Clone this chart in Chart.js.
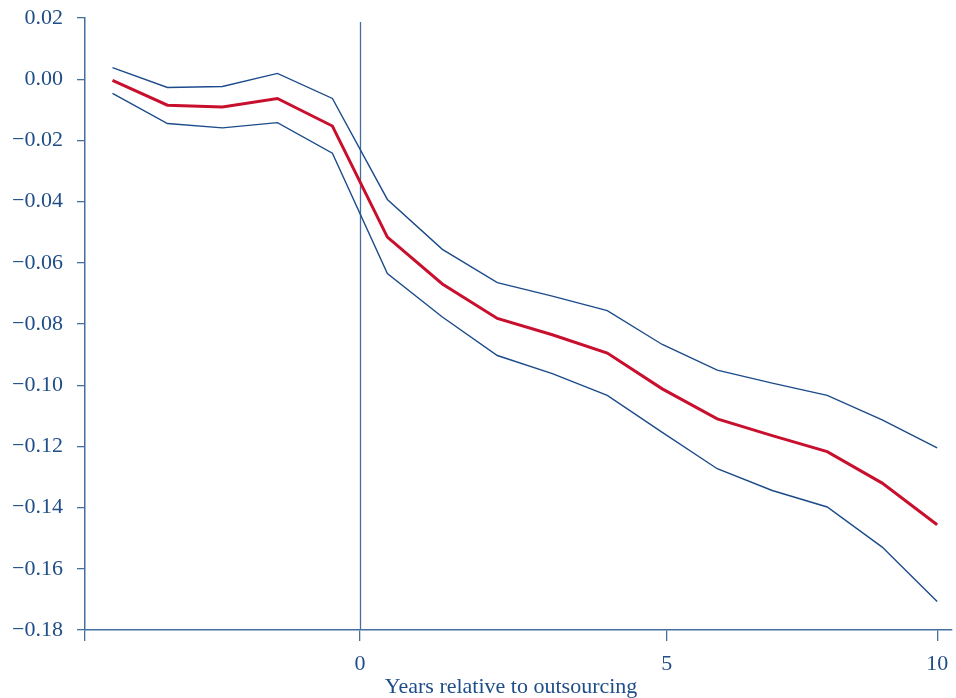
<!DOCTYPE html>
<html>
<head>
<meta charset="utf-8">
<script src="https://cdn.jsdelivr.net/npm/chart.js@4"></script>
<style>
  html, body { margin: 0; padding: 0; background: #fff; }
  #wrap { width: 956px; height: 698px; }
</style>
</head>
<body>
<div id="wrap"><canvas id="event"></canvas></div>
<script>
// event time of each estimate (one point per period)
const periods = [-5, -4, -3, -2, -1, 0, 1, 2, 3, 4, 5, 6, 7, 8, 9, 10];
const estimate = [-0.0004, -0.0085, -0.0091, -0.0063, -0.0153, -0.0516, -0.0669, -0.0782, -0.0835, -0.0895, -0.1012, -0.1110, -0.1165, -0.1217, -0.1320, -0.1456];
const upper = [0.0038, -0.0027, -0.0024, 0.0019, -0.0063, -0.0393, -0.0556, -0.0665, -0.0709, -0.0756, -0.0867, -0.0951, -0.0993, -0.1033, -0.1113, -0.1205];
const lower = [-0.0046, -0.0145, -0.0159, -0.0142, -0.0242, -0.0635, -0.0777, -0.0903, -0.0962, -0.1033, -0.1154, -0.1273, -0.1344, -0.1398, -0.1529, -0.1707];

// x tick positions and their labels as printed on the original axis
const xTickValues = [-5.5, -0.5, 5.08, 10];
const xTickLabels = ['', '0', '5', '10'];
const yTickValues = [0.02, 0, -0.02, -0.04, -0.06, -0.08, -0.1, -0.12, -0.14, -0.16, -0.18];
const eventLine = -0.5;
const xTitle = 'Years relative to outsourcing';

const navy = '#1b4b8a';
const axisBlue = '#44709f';
const textBlue = '#1f4d88';
const red = '#c8102e';
const font = { family: '"Liberation Serif", "Times New Roman", serif', size: 22 };

const toPoints = vals => periods.map((p, i) => ({ x: p, y: vals[i] }));

const extras = {
    id: 'extras',
    beforeDatasetsDraw(chart) {
        const { ctx, scales: { x, y } } = chart;
        const px = Math.round(x.getPixelForValue(eventLine)) + 0.5;
        ctx.save();
        ctx.strokeStyle = axisBlue;
        ctx.lineWidth = 1.3;
        ctx.beginPath();
        ctx.moveTo(px, y.top + 4);
        ctx.lineTo(px, y.bottom);
        ctx.stroke();
        ctx.restore();
    },
    afterDraw(chart) {
        const { ctx, scales: { x } } = chart;
        const cx = (x.getPixelForValue(xTickValues[0]) + x.getPixelForValue(xTickValues[xTickValues.length - 1])) / 2;
        ctx.save();
        ctx.fillStyle = textBlue;
        ctx.font = `${font.size}px ${font.family}`;
        ctx.textAlign = 'center';
        ctx.textBaseline = 'alphabetic';
        ctx.fillText(xTitle, cx, x.bottom - 5);
        ctx.restore();
    }
};

function fmtY(v) {
    const s = Math.abs(v).toFixed(2);
    return v < -1e-9 ? '\u2212' + s : s;
}

new Chart(document.getElementById('event').getContext('2d'), {
    type: 'line',
    data: {
        datasets: [
            { data: toPoints(upper), borderColor: navy, borderWidth: 1.4, pointRadius: 0, tension: 0 },
            { data: toPoints(lower), borderColor: navy, borderWidth: 1.4, pointRadius: 0, tension: 0 },
            { data: toPoints(estimate), borderColor: red, borderWidth: 3, pointRadius: 0, tension: 0 }
        ]
    },
    options: {
        responsive: true,
        maintainAspectRatio: false,
        animation: false,
        layout: { padding: { top: 18, right: 4, left: 0, bottom: 0 } },
        plugins: { legend: { display: false }, tooltip: { enabled: false } },
        scales: {
            x: {
                type: 'linear',
                min: -5.5,
                max: 10.27,
                afterBuildTicks: s => { s.ticks = xTickValues.map(v => ({ value: v })); },
                afterFit: s => { s.height = 68; s.paddingRight = 0; s.paddingLeft = 0; },
                ticks: {
                    color: textBlue,
                    font: font,
                    padding: 10,
                    maxRotation: 0,
                    autoSkip: false,
                    callback: (v, i) => xTickLabels[i]
                },
                grid: { drawOnChartArea: false, color: axisBlue, tickLength: 11, lineWidth: 1.3 },
                border: { color: axisBlue, width: 1.5 }
            },
            y: {
                min: -0.18,
                max: 0.02,
                afterBuildTicks: s => { s.ticks = yTickValues.map(v => ({ value: v })); },
                afterFit: s => { s.width = 85; s.paddingTop = 0; s.paddingBottom = 0; },
                ticks: {
                    color: textBlue,
                    font: font,
                    padding: 14,
                    autoSkip: false,
                    callback: v => fmtY(v)
                },
                grid: { drawOnChartArea: false, color: axisBlue, tickLength: 8, lineWidth: 1.3 },
                border: { color: axisBlue, width: 1.5 }
            }
        }
    },
    plugins: [extras]
});
</script>
</body>
</html>
